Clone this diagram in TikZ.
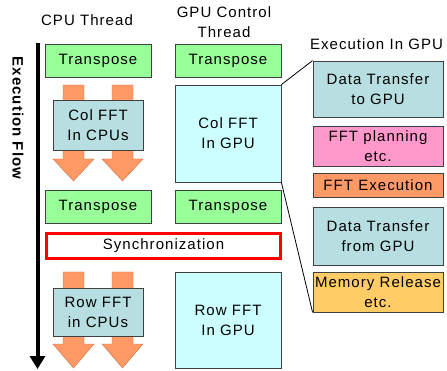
\documentclass[tikz,border=0pt]{standalone}
\usepackage{fontspec}
\setmainfont{Liberation Sans}[LetterSpace=7]
\usetikzlibrary{arrows.meta}
\definecolor{tgreen}{HTML}{99FF99}
\definecolor{tteal}{HTML}{B7DEE0}
\definecolor{tcyan}{HTML}{CCFFFF}
\definecolor{tpink}{HTML}{FF99CC}
\definecolor{torange}{HTML}{FF9966}
\definecolor{tyellow}{HTML}{FFCC66}
\definecolor{tborder}{HTML}{404040}
\definecolor{tarrowline}{HTML}{D07040}
\begin{document}
\begin{tikzpicture}[x=1pt,y=-1pt,
  every node/.style={font=\fontsize{15}{20}\selectfont, inner sep=0pt, align=center},
  box/.style={draw=tborder, line width=0.8pt, rectangle},
  transp/.style={box, fill=tgreen, minimum width=106pt, minimum height=33pt},
  cpubox/.style={box, fill=tteal, minimum width=90pt},
  gpubox/.style={box, fill=tcyan, minimum width=106pt},
  rbox/.style={box, minimum width=130pt},
  title/.style={},
  blockarrow/.style={fill=torange, draw=tarrowline, line width=0.4pt},
  zoomline/.style={draw=black, line width=0.8pt}
]
\useasboundingbox (0,0) rectangle (447,371);

% titles
\node[title] (cpuT) at (87,20) {CPU Thread};
\node[title] (gpuT) at (224,22.5) {GPU Control\\Thread};
\node[title] (exeT) at (376.5,44) {Execution In GPU};

% execution flow
\coordinate (flowS) at (37.5,43);
\coordinate (flowE) at (37.5,369);
\draw[line width=4pt, -{Triangle[width=15pt,length=13pt]}] (flowS) -- (flowE);
\node[font=\fontsize{15}{20}\selectfont\bfseries, rotate=-90] (flowL) at (18,118) {Execution Flow};

% block arrows (col)
\foreach \cx in {73.5,122.5} {
  \draw[blockarrow] (\cx-10.5,85) -- (\cx+10.5,85) -- (\cx+10.5,159) -- (\cx+20.5,159)
     -- (\cx,181) -- (\cx-20.5,159) -- (\cx-10.5,159) -- cycle;
  \draw[blockarrow] (\cx-10.5,272) -- (\cx+10.5,272) -- (\cx+10.5,344) -- (\cx+20.5,344)
     -- (\cx,368) -- (\cx-20.5,344) -- (\cx-10.5,344) -- cycle;
}

% CPU column
\node[transp] (ct1) at (98,60.5) {Transpose};
\node[cpubox, minimum height=50pt] (ccol) at (98,125) {Col FFT\\In CPUs};
\node[transp] (ct2) at (98,206.5) {Transpose};
\node[cpubox, minimum height=48pt] (crow) at (98,312) {Row FFT\\in CPUs};

% GPU column
\node[transp] (gt1) at (228,60.5) {Transpose};
\node[gpubox, minimum height=97pt] (gcol) at (228,133.5) {Col FFT\\In GPU};
\node[transp] (gt2) at (228,206.5) {Transpose};
\node[gpubox, minimum height=96pt] (grow) at (228,320) {Row FFT\\In GPU};

% sync
\node[draw=red, line width=3pt, fill=white, minimum width=234pt, minimum height=25pt] (sync) at (163.5,246) {Synchronization};

% right column
\node[rbox, fill=tteal, minimum height=56pt] (r1) at (378,89) {Data Transfer\\to GPU};
\node[rbox, fill=tpink, minimum height=40pt] (r2) at (378,146) {FFT planning\\etc.};
\node[rbox, fill=torange, minimum height=24pt] (r3) at (378,185) {FFT Execution};
\node[rbox, fill=tteal, minimum height=58pt] (r4) at (378,236) {Data Transfer\\from GPU};
\node[rbox, fill=tyellow, minimum height=40pt] (r5) at (378,292) {Memory Release\\etc.};

% zoom lines
\draw[zoomline] (gcol.north east) -- (r1.north west);
\draw[zoomline] (gcol.south east) -- (r5.south west);
\end{tikzpicture}
\end{document}
